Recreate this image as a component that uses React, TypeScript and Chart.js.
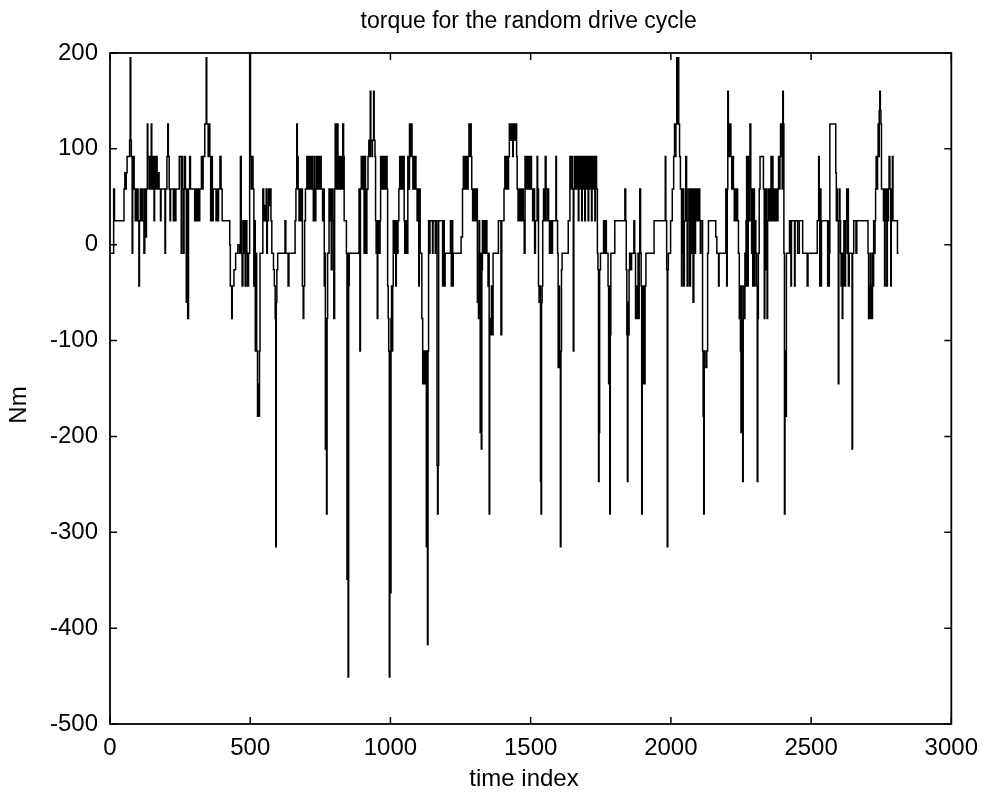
import React, { useEffect, useRef } from 'react';
import { Chart, registerables } from 'chart.js';

Chart.register(...registerables);

const titleText = 'torque for the random drive cycle';
const xLabel = 'time index';
const yLabel = 'Nm';
const xTicks = [0, 500, 1000, 1500, 2000, 2500, 3000];
const yTicks = [-500, -400, -300, -200, -100, 0, 100, 200];

// [time index where the step starts, torque in Nm]
const torqueSteps: [number, number][] = [
  [0, -9], [13, 58], [16, 25], [50, 58], [53, 75], [56, 58], [58, 75], [61, 92], [70, 109], [72, 195], [74, 109], [76, 92], [79, -9], [81, 92], [86, 58], [90, 25], [92, 58], [95, 25], [97, 58], [100, 25], [103, -43], [105, 25], [108, 58], [111, 25], [113, 58], [118, 25], [121, -9], [124, 58], [127, 8], [130, 58], [133, 126], [135, 92], [139, 58], [141, 92], [144, 58], [147, 126], [149, 92], [152, 58], [155, 92], [157, 25], [159, 92], [162, 58], [165, 92], [168, 58], [172, 75], [175, 58], [180, 25], [182, 58], [196, -9], [198, 58], [203, 92], [206, 126], [208, 92], [211, 58], [214, 25], [216, 58], [226, 25], [228, 58], [233, 25], [235, 58], [247, 92], [254, -9], [256, 92], [259, 58],
  [262, -9], [264, 58], [266, 92], [269, 58], [272, -60], [274, 58], [277, -77], [280, 58], [284, 92], [287, 58], [302, 25], [306, 58], [309, 25], [313, 58], [316, 25], [320, 58], [326, 92], [330, 58], [332, 92], [338, 126], [343, 195], [345, 126], [350, 92], [352, 126], [356, 92], [359, 25], [362, 92], [365, 25], [368, 58], [378, 25], [381, 58], [384, 25], [387, 58], [392, 92], [396, 58], [400, 25], [427, 0], [429, -43], [434, -77], [436, -43], [442, -26], [448, -9], [456, 0], [462, -9], [465, 92], [468, -9], [471, -43], [474, 25], [477, -9], [480, 25], [482, -43], [485, 25], [488, -9], [491, -43], [494, -9], [498, 200], [501, 92], [504, 58], [507, 92], [510, 58], [513, -43], [516, 25],
  [518, -111], [521, -9], [523, -111], [526, -179], [528, -145], [530, -179], [533, -111], [535, -9], [545, 58], [548, 25], [551, 41], [554, 25], [557, 58], [559, -9], [561, 25], [565, 58], [568, 41], [571, 58], [574, 25], [577, -9], [583, -26], [586, -43], [589, -77], [591, -315], [593, -60], [595, -26], [598, -9], [624, 25], [627, -9], [635, -43], [638, -9], [660, 25], [663, 58], [666, 126], [668, 92], [671, 58], [674, 25], [677, 58], [680, 25], [683, 58], [686, -43], [689, -77], [691, -43], [694, 25], [697, 58], [702, 92], [704, 58], [708, 92], [711, 58], [714, 92], [716, 58], [719, 92], [722, 58], [725, 25], [728, 92], [731, 25], [734, 58], [737, 92], [740, 58], [744, 92], [747, 58], [750, 92], [753, 58], [758, 25], [761, 58], [764, -43], [766, -9], [768, -213], [770, -77], [772, -281], [774, -77], [776, -9],
  [781, 58], [784, 25], [786, 58], [789, -26], [792, 58], [795, 25], [798, -77], [801, 58], [803, 126], [805, 92], [808, 58], [810, 126], [813, 92], [815, 58], [818, 92], [821, 58], [824, 92], [827, 58], [830, 126], [833, 92], [835, 25], [843, -9], [845, -349], [847, -9], [849, -451], [851, -43], [853, -9], [888, 58], [891, -111], [893, 58], [896, 92], [900, 58], [903, 92], [906, -9], [908, 92], [911, 25], [913, -9], [916, 58], [920, 92], [923, 109], [926, 92], [928, 160], [930, 109], [934, 92], [936, 109], [940, 160], [942, 109], [945, 92], [947, 25], [949, -9], [951, 25], [953, -77], [955, -9], [958, 25], [961, -9], [963, 25], [965, 92], [968, 58], [971, 92], [975, 58], [978, 92], [983, 58], [986, 92], [988, 58], [990, -43], [992, -77], [994, -111], [996, -451], [998, -111], [1000, -363], [1002, -77], [1004, -43], [1006, -111], [1008, -43], [1010, 25], [1013, -9], [1016, 25], [1019, -43], [1021, 25], [1024, -9], [1027, 25], [1030, 58], [1033, 92], [1036, 58], [1040, 92], [1043, 58], [1046, 92],
  [1049, 25], [1051, -9], [1053, 25], [1055, -9], [1057, 25], [1060, -9], [1062, 92], [1066, 58], [1068, 126], [1071, 92], [1074, 126], [1077, 92], [1080, 58], [1083, 92], [1086, 58], [1089, 92], [1091, 58], [1095, 25], [1097, 58], [1101, -43], [1103, 58], [1106, -9], [1112, -77], [1115, -145], [1117, -111], [1120, -145], [1123, -111], [1126, -128], [1128, -315], [1130, -111], [1132, -417], [1134, -111], [1136, 25], [1139, -9], [1141, 25], [1150, -9], [1152, 25], [1160, -9], [1162, 25], [1166, -230], [1168, -281], [1170, -230], [1172, 25], [1186, -43], [1189, 25], [1192, -43], [1195, -9], [1214, 25], [1217, -43], [1219, 25], [1222, -43], [1224, -9], [1252, 8], [1257, 58], [1260, 92], [1263, 58], [1266, 92], [1269, 58], [1271, 92], [1274, 58], [1277, 92], [1280, 126], [1283, 92], [1285, 126], [1288, 92], [1290, 58], [1293, 25], [1296, 58], [1299, 25], [1302, 58], [1305, 25], [1308, 58], [1310, -60], [1312, -9],
  [1314, -77], [1316, 25], [1318, -9], [1320, -196], [1322, -9], [1324, -213], [1326, -26], [1328, 25], [1331, -9], [1334, 25], [1338, -9], [1341, 25], [1344, -9], [1348, -43], [1350, -9], [1352, -281], [1354, -77], [1357, -94], [1360, -43], [1363, -94], [1366, -9], [1385, 25], [1394, -94], [1397, 25], [1405, 58], [1408, 92], [1411, 58], [1414, 92], [1418, 58], [1421, 92], [1424, 126], [1428, 109], [1431, 126], [1436, 92], [1438, 126], [1442, 109], [1445, 126], [1450, 92], [1452, 58], [1455, 25], [1458, 58], [1461, 25], [1464, 58], [1467, 25], [1470, 58], [1474, 25], [1477, -9], [1480, 92], [1484, 58], [1487, 92], [1490, 58], [1493, 92], [1497, 58], [1500, 92], [1503, 58], [1507, 25], [1511, 58], [1514, -9], [1517, 25], [1523, 92], [1525, 58], [1528, -43], [1530, -60], [1533, -43], [1535, -247], [1537, -281], [1539, -60], [1541, -43], [1543, 25], [1546, 58], [1549, 25], [1552, 92], [1555, 58], [1558, 25], [1561, 58], [1564, 25], [1567, -9], [1570, 25],
  [1573, -9], [1578, 25], [1590, 92], [1592, 25], [1596, -9], [1598, -128], [1600, -43], [1603, -128], [1606, -315], [1608, -111], [1610, -26], [1612, -9], [1634, 25], [1640, 92], [1643, 58], [1646, 92], [1649, 58], [1652, -111], [1654, 58], [1656, 92], [1660, 58], [1664, 92], [1668, 58], [1670, 25], [1672, 92], [1676, 58], [1680, 92], [1682, 25], [1684, 92], [1688, 58], [1691, 92], [1693, 25], [1695, 92], [1699, 58], [1702, 92], [1705, 25], [1707, 92], [1711, 58], [1714, 92], [1717, 25], [1719, 92], [1723, 58], [1726, 92], [1729, 25], [1731, 92], [1735, 58], [1738, -9], [1740, -26], [1742, -247], [1744, -196], [1746, -26], [1749, -9], [1760, 25], [1764, -9], [1767, 25], [1770, -9], [1776, -43], [1778, -145], [1780, -43], [1782, -281], [1784, -94], [1786, -9], [1800, 25],
  [1836, 58], [1839, 25], [1841, -26], [1843, -94], [1845, -247], [1847, -60], [1849, -94], [1851, -26], [1853, -9], [1857, -26], [1860, -9], [1868, 25], [1871, -9], [1874, -77], [1877, -43], [1880, -77], [1883, -9], [1885, -77], [1887, -9], [1889, 58], [1892, -9], [1894, -43], [1896, -281], [1898, -145], [1901, -43], [1904, -111], [1906, -145], [1908, -43], [1911, -9], [1940, 25], [1980, 92], [1982, 25], [1985, -26], [1987, -315], [1989, -26], [1991, -9], [1999, 25], [2005, 58], [2010, 92], [2013, 126], [2016, 92], [2018, 126], [2021, 195], [2023, 126], [2026, 195], [2028, 126], [2031, 92], [2034, 58], [2038, -43], [2040, 58], [2042, -9], [2044, 58], [2046, -43], [2048, 25], [2053, 92], [2056, 58], [2058, -43], [2061, 25], [2064, 58], [2067, -43], [2070, 58], [2073, -9], [2076, 58], [2079, -60], [2082, 58], [2085, -9], [2088, 58], [2091, 25], [2094, 58], [2097, 25], [2100, 58],
  [2103, 25], [2105, -9], [2107, 25], [2113, -111], [2115, -179], [2117, -281], [2119, -111], [2122, -128], [2128, -111], [2131, -9], [2134, 25], [2160, 8], [2164, -9], [2170, -43], [2172, -9], [2196, 58], [2199, -43], [2201, 58], [2203, 160], [2205, 126], [2208, 92], [2211, 126], [2214, 92], [2217, 58], [2220, 92], [2223, 58], [2226, 25], [2229, 58], [2232, 25], [2235, 58], [2238, 25], [2241, -9], [2244, -77], [2246, -43], [2248, -111], [2250, -196], [2252, -43], [2254, -111], [2256, -247], [2258, -77], [2260, -43], [2262, -77], [2264, -9], [2266, -43], [2268, 25], [2270, 92], [2273, -43], [2276, 92], [2279, 25], [2282, 126], [2285, 58], [2288, -9], [2290, 58], [2292, -43], [2295, 58], [2298, -43], [2300, 25], [2303, -9], [2306, -43], [2308, -247], [2310, -77], [2312, -9], [2315, 58], [2318, 92], [2330, 58], [2333, -77], [2335, 58], [2338, -26], [2340, 58], [2343, -77], [2345, 25],
  [2349, 58], [2352, 25], [2355, 58], [2357, 92], [2359, 25], [2362, 92], [2364, 58], [2367, 25], [2370, 58], [2373, 25], [2376, 58], [2379, 25], [2382, 58], [2384, 92], [2387, 58], [2389, 92], [2391, 126], [2393, 92], [2395, 126], [2397, 58], [2399, 160], [2401, 126], [2403, -9], [2405, -281], [2407, -179], [2409, -111], [2410, -179], [2412, -9], [2423, 25], [2428, -43], [2430, 25], [2441, -43], [2443, 25], [2452, -9], [2458, 25], [2470, -9], [2486, -43], [2489, -9], [2522, 25], [2527, 92], [2529, 25], [2531, -43], [2533, 58], [2535, -43], [2537, 25], [2559, -43], [2561, 25], [2563, -43], [2565, -9], [2567, 126], [2588, 75], [2590, 25], [2592, 58], [2594, 25], [2597, -145], [2599, 25], [2601, 58], [2603, 25], [2605, -9], [2607, -43], [2609, -9], [2611, -77], [2613, -9], [2615, -43], [2617, 25],
  [2619, -9], [2621, -43], [2623, 25], [2627, 58], [2629, -9], [2631, 58], [2633, -43], [2636, -9], [2646, -213], [2648, -9], [2652, 25], [2660, -9], [2663, 25], [2703, -9], [2705, -77], [2707, -43], [2709, -77], [2711, -9], [2713, -77], [2715, -43], [2717, -77], [2719, -9], [2721, -43], [2723, 25], [2726, -9], [2728, 25], [2730, 58], [2732, 92], [2735, 58], [2737, 92], [2739, 126], [2741, 92], [2743, 140], [2745, 160], [2747, 140], [2749, 126], [2751, 58], [2758, 25], [2760, 58], [2762, -43], [2764, 58], [2766, 25], [2768, 58], [2770, -43], [2772, 58], [2774, 25], [2776, 58], [2778, 92], [2781, 58], [2784, -43], [2786, 58], [2789, 25], [2790, 92], [2792, 25], [2808, -9], [2812, -9],
];

const FONT = "'Liberation Sans', Arial, Helvetica, sans-serif";

const framePlugin = {
  id: 'matlabFrame',
  afterDraw(chart: any) {
    const { ctx, chartArea, scales } = chart;
    const { left, right, top, bottom } = chartArea;
    const xs = scales.x;
    const ys = scales.y;
    ctx.save();
    ctx.strokeStyle = '#000';
    ctx.lineWidth = 1.8;
    ctx.strokeRect(left, top, right - left, bottom - top);
    ctx.lineWidth = 1.5;
    const tl = 7;
    ctx.beginPath();
    for (const t of xTicks) {
      const px = xs.getPixelForValue(t);
      ctx.moveTo(px, bottom); ctx.lineTo(px, bottom - tl);
      ctx.moveTo(px, top); ctx.lineTo(px, top + tl);
    }
    for (const t of yTicks) {
      const py = ys.getPixelForValue(t);
      ctx.moveTo(left, py); ctx.lineTo(left + tl, py);
      ctx.moveTo(right, py); ctx.lineTo(right - tl, py);
    }
    ctx.stroke();
    ctx.fillStyle = '#000';
    ctx.textAlign = 'center';
    ctx.textBaseline = 'middle';
    ctx.font = `23px ${FONT}`;
    ctx.fillText(titleText, (left + right) / 2 - 2, 22);
    ctx.font = `24px ${FONT}`;
    ctx.fillText(xLabel, 524, 779);
    ctx.translate(19, 405);
    ctx.rotate(-Math.PI / 2);
    ctx.fillText(yLabel, 0, 0);
    ctx.restore();
  },
};

export default function App() {
  const ref = useRef<HTMLCanvasElement | null>(null);
  useEffect(() => {
    if (!ref.current) return;
    const chart = new Chart(ref.current, {
      type: 'line',
      data: {
        datasets: [
          {
            data: torqueSteps.map(([x, y]) => ({ x, y })),
            stepped: true,
            borderColor: '#000',
            borderWidth: 1.5,
            pointRadius: 0,
            fill: false,
          },
        ],
      },
      options: {
        animation: false,
        responsive: false,
        devicePixelRatio: 1,
        layout: { padding: { top: 53, right: 33, left: 0, bottom: 0 } },
        plugins: { legend: { display: false }, tooltip: { enabled: false }, title: { display: false } },
        scales: {
          x: {
            type: 'linear',
            min: 0,
            max: 3000,
            afterBuildTicks: (s: any) => { s.ticks = xTicks.map((v) => ({ value: v })); },
            afterFit: (s: any) => { s.height = 73; },
            grid: { display: false, drawTicks: false },
            border: { display: false },
            ticks: { color: '#000', padding: 10, maxRotation: 0, font: { size: 24, family: FONT }, callback: (v: any) => String(v) },
          },
          y: {
            type: 'linear',
            min: -500,
            max: 200,
            afterBuildTicks: (s: any) => { s.ticks = yTicks.map((v) => ({ value: v })); },
            afterFit: (s: any) => { s.width = 110; },
            grid: { display: false, drawTicks: false },
            border: { display: false },
            ticks: { color: '#000', padding: 12, font: { size: 24, family: FONT }, callback: (v: any) => String(v) },
          },
        },
      },
      plugins: [framePlugin],
    });
    return () => chart.destroy();
  }, []);
  return (
    <div style={{ position: 'absolute', left: 0, top: 0, width: 988, height: 797, background: '#fff' }}>
      <canvas ref={ref} width={988} height={797} style={{ display: 'block' }} />
    </div>
  );
}
